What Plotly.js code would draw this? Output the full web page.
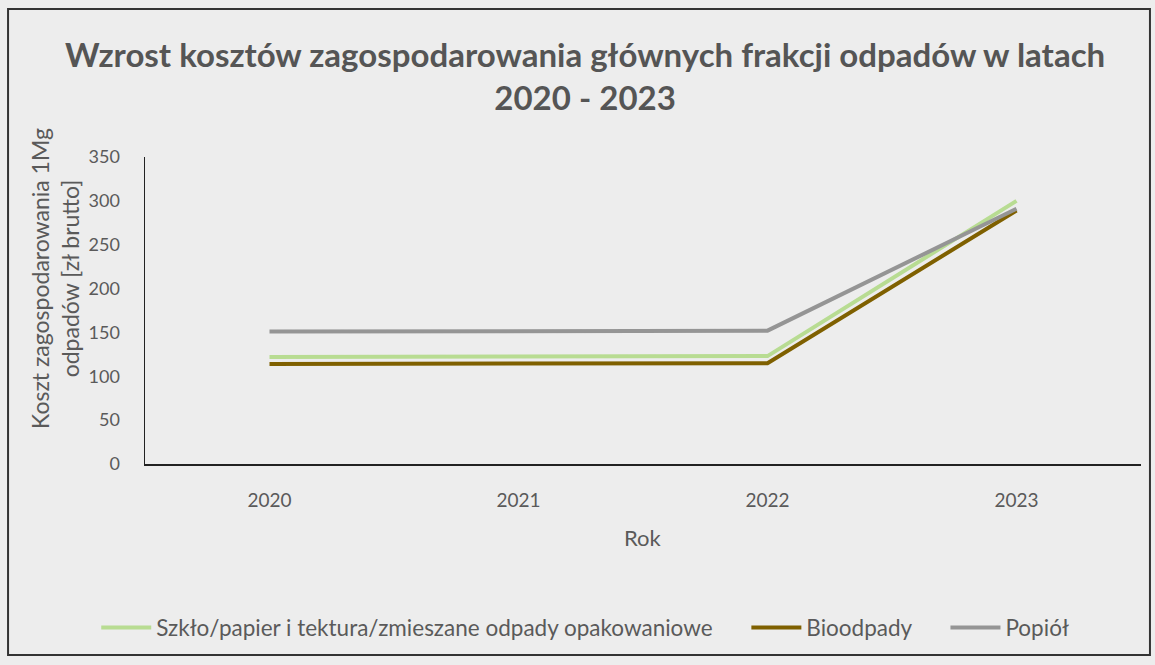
<!DOCTYPE html>
<html>
<head>
<meta charset="utf-8">
<script src="https://cdn.plot.ly/plotly-3.0.1.min.js"></script>
<style>html,body{margin:0;padding:0;background:#ededed;}#chart{width:1155px;height:665px;}</style>
</head>
<body>
<div id="chart"></div>
<script>
const years = ['2020', '2021', '2022', '2023'];
const szklo = [122, 122, 123, 300];
const bioodpady = [114, 114, 115, 289];
const popiol = [151, 152, 152, 291];
const seriesNames = ['Szkło/papier i tektura/zmieszane odpady opakowaniowe', 'Bioodpady', 'Popiół'];
const yTicks = [0, 50, 100, 150, 200, 250, 300, 350];
const chartTitle = '<b>Wzrost kosztów zagospodarowania głównych frakcji odpadów w latach<br>2020 - 2023</b>';
const yTitle = 'Koszt zagospodarowania 1Mg<br>odpadów [zł brutto]';
const xTitle = 'Rok';

const FONT = 'Lato, Liberation Sans, sans-serif';
const TXT = '#5a5a5a';
const GAP = '\u00a0'.repeat(5);

const traces = [
  {x: years, y: szklo, name: seriesNames[0] + GAP, type: 'scatter', mode: 'lines', line: {color: '#b8dc92', width: 4}},
  {x: years, y: bioodpady, name: seriesNames[1] + GAP, type: 'scatter', mode: 'lines', line: {color: '#7f6000', width: 4}},
  {x: years, y: popiol, name: seriesNames[2], type: 'scatter', mode: 'lines', line: {color: '#959595', width: 4}}
];

const layout = {
  width: 1155, height: 665,
  paper_bgcolor: '#ededed', plot_bgcolor: '#ededed',
  margin: {l: 145, r: 14, t: 157, b: 201, autoexpand: false},
  font: {family: FONT, color: TXT, size: 18},
  xaxis: {
    type: 'category', range: [-0.5, 3.5], automargin: false,
    showline: true, linecolor: '#222222', linewidth: 1.5,
    showgrid: false, zeroline: false, ticks: '',
    ticklabelstandoff: 19,
    tickfont: {size: 19, color: TXT}
  },
  yaxis: {
    range: [0, 350], tickvals: yTicks, ticktext: yTicks.map(String), automargin: false,
    showline: true, linecolor: '#222222', linewidth: 1.5,
    showgrid: false, zeroline: false, ticks: '',
    ticklabelstandoff: 20,
    tickfont: {size: 18, color: TXT}
  },
  annotations: [
    {text: chartTitle, xref: 'paper', yref: 'paper', x: 0.4418, y: 1.267, xanchor: 'center', yanchor: 'middle',
     showarrow: false, font: {family: FONT, size: 33, color: '#555555'}},
    {text: yTitle, xref: 'paper', yref: 'paper', x: -0.0904, y: 0.606, xanchor: 'center', yanchor: 'middle',
     textangle: -90, showarrow: false, font: {family: FONT, size: 23, color: TXT}},
    {text: xTitle, xref: 'paper', yref: 'paper', x: 0.5, y: -0.241, xanchor: 'center', yanchor: 'middle',
     showarrow: false, font: {family: FONT, size: 22, color: TXT}}
  ],
  legend: {
    orientation: 'h', x: 0.442, xanchor: 'center', y: -0.534, yanchor: 'middle',
    font: {size: 22.5, color: TXT}, itemwidth: 50, bgcolor: 'rgba(0,0,0,0)'
  },
  showlegend: true,
  shapes: [{
    type: 'rect', xref: 'paper', yref: 'paper',
    x0: -0.1375, x1: 1.009, y0: -0.622, y1: 1.482,
    line: {color: '#333333', width: 2}, fillcolor: 'rgba(0,0,0,0)', layer: 'below'
  }]
};

Plotly.newPlot('chart', traces, layout, {displayModeBar: false, staticPlot: true});
</script>
</body>
</html>
